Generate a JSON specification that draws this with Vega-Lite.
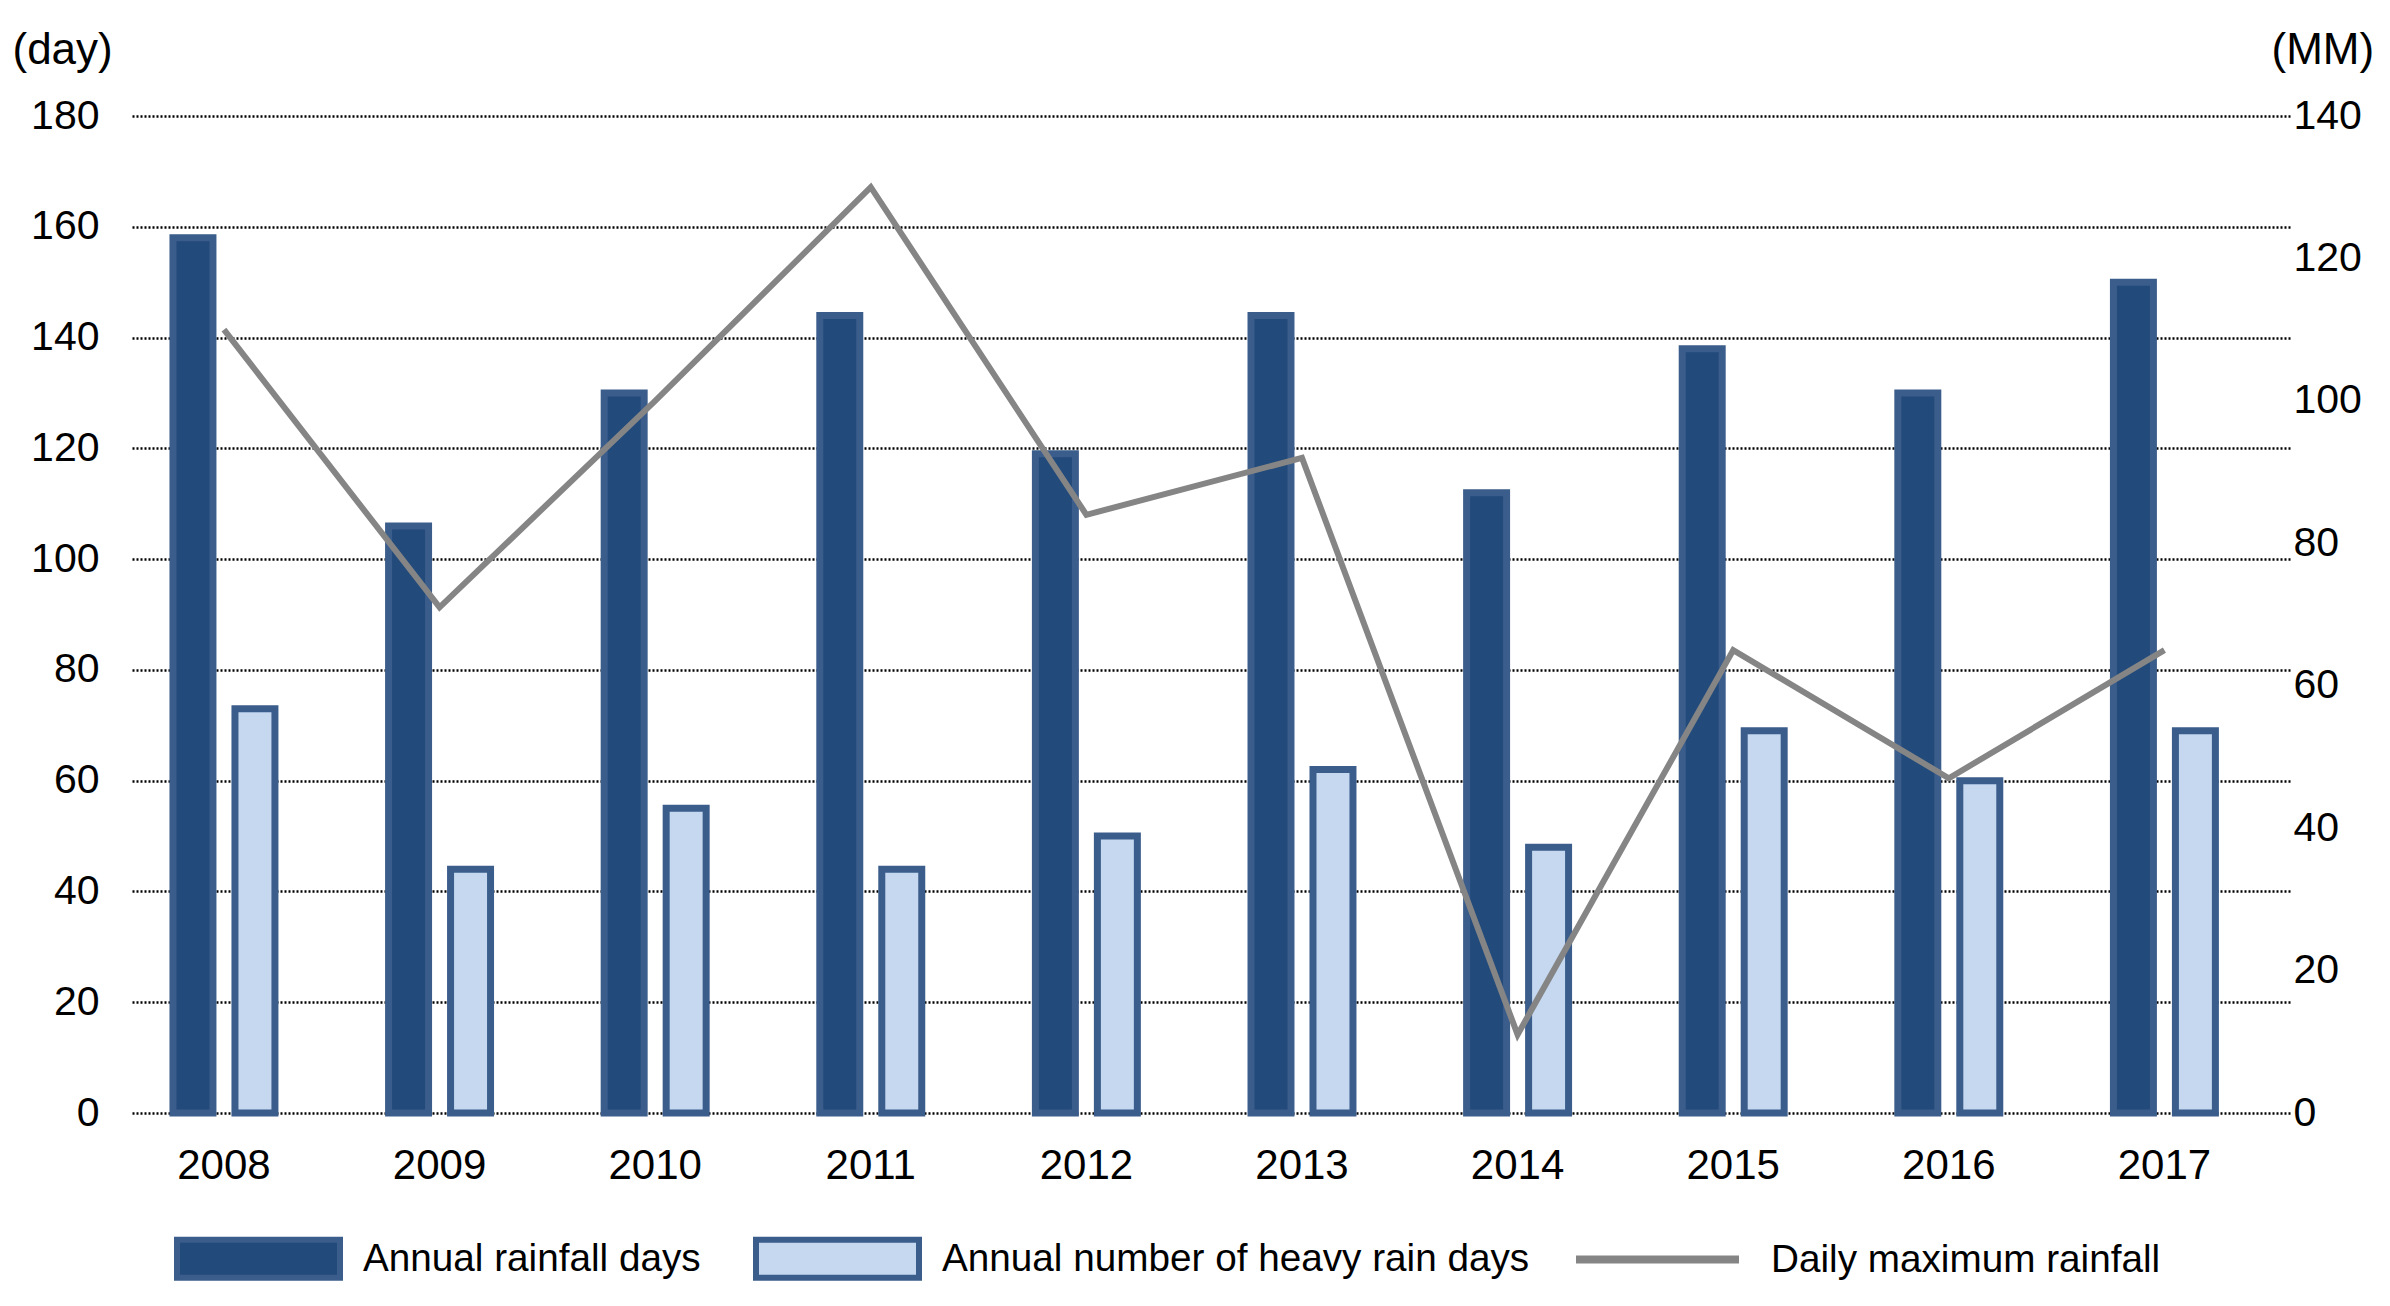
{
  "$schema": "https://vega.github.io/schema/vega-lite/v6.json",
  "width": 2158,
  "height": 997,
  "autosize": {"type": "none"},
  "padding": {"left": 132, "top": 116, "right": 100, "bottom": 193},
  "background": "white",
  "config": {
    "view": {"stroke": null},
    "font": "Liberation Sans",
    "axis": {"labelColor": "#000000", "titleColor": "#000000", "labelFont": "Liberation Sans", "titleFont": "Liberation Sans", "titleFontWeight": "normal"},
    "legend": {"labelFont": "Liberation Sans", "labelColor": "#000000", "labelFontSize": 38.7, "labelLimit": 2000, "labelOffset": 20, "symbolSize": 26569, "symbolOpacity": 1, "direction": "horizontal", "orient": "none", "title": null}
  },
  "data": {
    "values": [
      {"year": "2008", "series": "Annual rainfall days", "value": 158},
      {"year": "2009", "series": "Annual rainfall days", "value": 106},
      {"year": "2010", "series": "Annual rainfall days", "value": 130},
      {"year": "2011", "series": "Annual rainfall days", "value": 144},
      {"year": "2012", "series": "Annual rainfall days", "value": 119},
      {"year": "2013", "series": "Annual rainfall days", "value": 144},
      {"year": "2014", "series": "Annual rainfall days", "value": 112},
      {"year": "2015", "series": "Annual rainfall days", "value": 138},
      {"year": "2016", "series": "Annual rainfall days", "value": 130},
      {"year": "2017", "series": "Annual rainfall days", "value": 150},
      {"year": "2008", "series": "Annual number of heavy rain days", "value": 73},
      {"year": "2009", "series": "Annual number of heavy rain days", "value": 44},
      {"year": "2010", "series": "Annual number of heavy rain days", "value": 55},
      {"year": "2011", "series": "Annual number of heavy rain days", "value": 44},
      {"year": "2012", "series": "Annual number of heavy rain days", "value": 50},
      {"year": "2013", "series": "Annual number of heavy rain days", "value": 62},
      {"year": "2014", "series": "Annual number of heavy rain days", "value": 48},
      {"year": "2015", "series": "Annual number of heavy rain days", "value": 69},
      {"year": "2016", "series": "Annual number of heavy rain days", "value": 60},
      {"year": "2017", "series": "Annual number of heavy rain days", "value": 69},
      {"year": "2008", "series": "Daily maximum rainfall", "value": 110},
      {"year": "2009", "series": "Daily maximum rainfall", "value": 71},
      {"year": "2010", "series": "Daily maximum rainfall", "value": 100},
      {"year": "2011", "series": "Daily maximum rainfall", "value": 130},
      {"year": "2012", "series": "Daily maximum rainfall", "value": 84},
      {"year": "2013", "series": "Daily maximum rainfall", "value": 92},
      {"year": "2014", "series": "Daily maximum rainfall", "value": 11},
      {"year": "2015", "series": "Daily maximum rainfall", "value": 65},
      {"year": "2016", "series": "Daily maximum rainfall", "value": 47},
      {"year": "2017", "series": "Daily maximum rainfall", "value": 65}
    ]
  },
  "encoding": {
    "x": {
      "field": "year",
      "type": "ordinal",
      "scale": {"paddingInner": 0.147, "paddingOuter": 0.078, "align": 0},
      "axis": {"title": null, "labelAngle": 0, "labelFontSize": 42, "labelPadding": 32, "ticks": false, "domain": false, "grid": false}
    }
  },
  "layer": [
    {
      "transform": [{"filter": "datum.series !== 'Daily maximum rainfall'"}],
      "mark": {"type": "bar", "stroke": "#3B5D8B", "strokeWidth": 7},
      "encoding": {
        "xOffset": {
          "field": "series",
          "type": "nominal",
          "scale": {"domain": ["Annual rainfall days", "Annual number of heavy rain days"], "paddingInner": 0.355, "paddingOuter": 0.661}
        },
        "y": {
          "field": "value",
          "type": "quantitative",
          "scale": {"domain": [0, 180], "nice": false},
          "axis": {
            "title": "(day)", "titleAngle": 0, "titleX": -120, "titleY": -66, "titleAlign": "left", "titleBaseline": "middle", "titleFontSize": 44,
            "values": [0, 20, 40, 60, 80, 100, 120, 140, 160, 180],
            "labelFontSize": 41, "labelPadding": 33, "ticks": false, "domain": false,
            "grid": true, "gridColor": "#000000", "gridDash": [2, 2], "gridWidth": 2.5, "gridOpacity": 1
          }
        },
        "fill": {
          "field": "series",
          "type": "nominal",
          "scale": {
            "domain": ["Annual rainfall days", "Annual number of heavy rain days"],
            "range": ["#224A7B", "#C5D8EF"]
          },
          "legend": {
            "legendX": 42,
            "legendY": 1058,
            "symbolType": "M-1,-0.233H1V0.233H-1Z",
            "symbolStrokeColor": "#3B5D8B",
            "symbolStrokeWidth": 6,
            "columnPadding": 43
          }
        }
      }
    },
    {
      "transform": [{"filter": "datum.series === 'Daily maximum rainfall'"}],
      "mark": {"type": "line", "strokeWidth": 6},
      "encoding": {
        "y": {
          "field": "value",
          "type": "quantitative",
          "scale": {"domain": [0, 140], "nice": false},
          "axis": {
            "orient": "right",
            "title": "(MM)", "titleAngle": 0, "titleX": -19, "titleY": -66, "titleAlign": "left", "titleBaseline": "middle", "titleFontSize": 44,
            "values": [0, 20, 40, 60, 80, 100, 120, 140],
            "labelFontSize": 41, "labelPadding": 3, "ticks": false, "domain": false, "grid": false
          }
        },
        "stroke": {
          "field": "series",
          "type": "nominal",
          "scale": {"domain": ["Daily maximum rainfall"], "range": ["#858585"]},
          "legend": {
            "legendX": 1440,
            "legendY": 1058,
            "symbolType": "stroke",
            "symbolStrokeWidth": 8,
            "labelOffset": 28
          }
        }
      }
    }
  ],
  "resolve": {"scale": {"y": "independent"}}
}
